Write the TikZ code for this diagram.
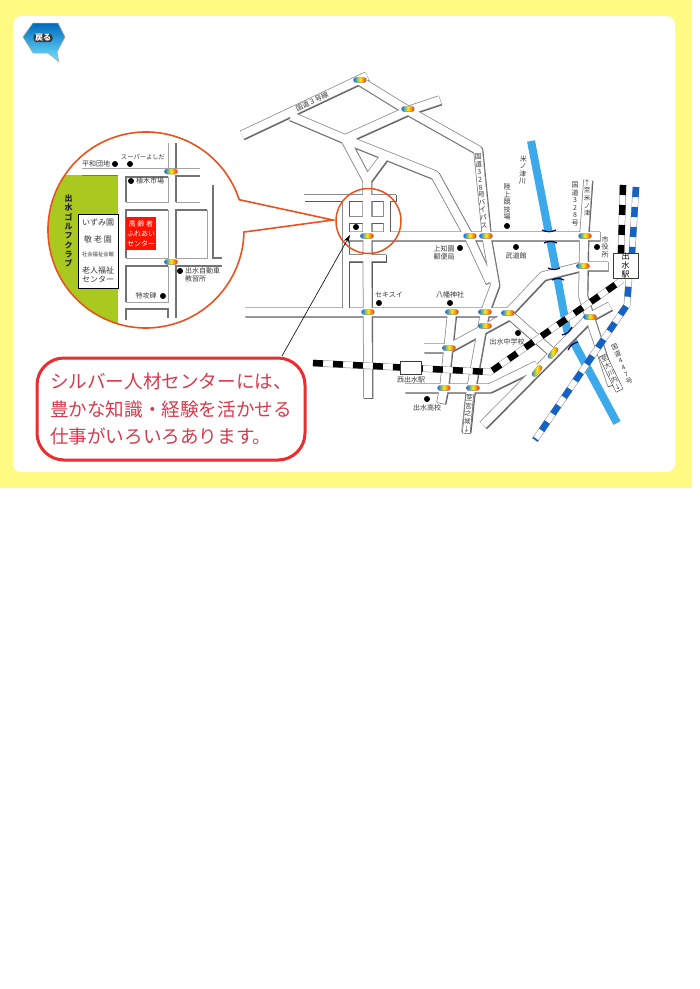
\documentclass[tikz,border=0pt]{standalone}
\usepackage{fontspec}
\setmainfont{Noto Sans CJK JP}
\usetikzlibrary{positioning,arrows.meta}

\definecolor{pagey}{HTML}{FFFA82}
\definecolor{flame}{HTML}{E8521F}
\definecolor{golf}{HTML}{A9C91F}
\definecolor{riverb}{HTML}{3BA9EA}
\definecolor{railb}{HTML}{1462C4}
\definecolor{inkg}{HTML}{3A3A3A}
\definecolor{edgeg}{HTML}{8C8C8C}
\definecolor{shadeg}{HTML}{5A5A5A}
\definecolor{alert}{HTML}{EE2B2E}
\definecolor{alerttext}{HTML}{D83A4C}

\tikzset{
  maplabel/.style={text=inkg,inner sep=0pt,font=\fontsize{7}{8.3}\selectfont,align=center},
  stacklabel/.style={maplabel,font=\fontsize{7}{7.6}\selectfont},
  landmark/.style={circle,fill=black,inner sep=0pt,minimum size=6pt},
  stationbox/.style={draw=inkg,fill=white,inner sep=0pt,line width=.5pt,align=center,text=black},
  roadtag/.style={stacklabel,draw=inkg,fill=white,line width=.4pt,inner xsep=.6pt,inner ysep=1.5pt,font=\fontsize{6.5}{7.6}\selectfont},
  bridge/.style={draw=black!70!blue,line width=1.2pt},
  block/.style={draw=shadeg!85!white,line width=1.3pt},
  lightblock/.style={draw=edgeg!80!white,line width=.8pt},
  signal/.pic={
    \shade[draw=edgeg,line width=.3pt,rounded corners=2.4pt,left color=blue!55!cyan,
      right color=red!75!orange,middle color=yellow!90!orange] (-6.5,-2.6) rectangle (6.5,2.6);
  }
}

\newcommand{\mainroads}{
  (242,135) -- (367,76)
  (360,81) -- (407,110) -- (478,150) -- (487,240) -- (495,285) -- (485,312) -- (470,395) -- (466,432)
  (440,100) -- (407,111) -- (345,139)
  (291,116) -- (345,139) -- (435,175) -- (468,235) -- (490,282)
  (345,139) -- (367,180) -- (368,398)
  (387,153) -- (367,180)
  (345,236) -- (600,236)
  (245,312) -- (513,312)
  (508,313) -- (543,276) -- (583,266) -- (608,266)
  (588,180) -- (584,236) -- (583,296) -- (590,318) -- (612,385)
  (405,388) -- (490,388) -- (537,365)
  (483,425) -- (590,317) -- (610,306)
  (510,315) -- (553,353)
  (424,348) -- (449,348) -- (508,316)
  (452,312) -- (444,388) -- (441,403)
}
\newcommand{\gridroads}{
  (304,197.5) -- (396,197.5)
  (345.5,197.5) -- (345.5,312)
  (386.5,197.5) -- (386.5,236)
  (345.5,219.5) -- (386.5,219.5)
  (345.5,258) -- (386,258)
}
\newcommand{\roadlayer}[2]{
  \draw[#1,line width=#2+8pt,line join=round] \mainroads;
  \draw[#1,line width=#2+6pt,line join=round] \gridroads;
}
\newcommand{\railtrack}[2]{
  \draw[edgeg,line width=6.6pt] #2;
  \draw[white,line width=5.6pt] #2;
  \draw[#1,line width=6.4pt,dash pattern=on 10pt off 10pt] #2;
}

\begin{document}
\begin{tikzpicture}[x=1pt,y=-1pt]
  \useasboundingbox (0,0) rectangle (700,989);

  % backing card
  \fill[white] (0,0) rectangle (700,989);
  \fill[pagey] (0,0) rectangle (692,488);
  \fill[white,rounded corners=8pt] (13,16) rectangle (675,472);

  % back button
  \shade[top color=blue!45!cyan!75!black,bottom color=cyan!50!white!90!blue,draw=gray!70,line width=.5pt]
    (23,37) -- (33,23) -- (58,23) -- (65,37) -- (57,52) -- (59,62) -- (48,53) -- (33,53) -- cycle;
  \node[fill=inkg,text=white,rounded corners=3pt,inner xsep=1.5pt,inner ysep=.5pt,
    font=\fontsize{8}{8.5}\selectfont\bfseries] (backbtn) at (43,38) {戻る};

  % river
  \draw[riverb,line width=8pt] (531,141) -- (555,265) -- (567,330) -- (617,423);

  % roads
  \begin{scope}[xshift=.6pt,yshift=-.8pt]
    \roadlayer{shadeg}{1.6pt}
  \end{scope}
  \roadlayer{edgeg}{1.5pt}
  \roadlayer{white}{0pt}

  % bridges
  \draw[bridge] (542,230) to[bend right=25] (556,230);
  \draw[bridge] (544,243) to[bend left=25] (557,243);
  \draw[bridge] (548,268) to[bend right=25] (560,268);
  \draw[bridge] (552,280) to[bend left=25] (564,280);
  \draw[bridge] (562,335) to[bend right=25] (572,327);
  \draw[bridge] (568,350) to[bend left=25] (578,342);

  % railways
  \railtrack{railb}{(636,187) -- (632,253) -- (629,278) -- (627,305) -- (535,440)}
  \railtrack{black}{(623,185) -- (621,253)}
  \railtrack{black}{(313,363) -- (490,372) -- (493,370) -- (615,285) -- (622,280)}

  \node[stationbox,minimum width=25pt,minimum height=25pt,font=\fontsize{8}{8.6}\selectfont] (izumi) at (625.5,265.5) {出\\水\\駅};
  \node[stationbox,minimum width=21pt,minimum height=13pt] (nishi) at (410.5,367.5) {};
  \node[maplabel] (nishilabel) at (411,380) {西出水駅};

  % signals on the map
  \foreach \sigx/\sigy in {360/80,408/109,367/236,470/236,486/236,585/236,583/266,368/312,452/312,485/312,508/313,485/326,449/348,444/388,473/388,590/317}
    \pic at (\sigx,\sigy) {signal};
  \pic[rotate=50] at (553,353) {signal};
  \pic[rotate=50] at (537,371) {signal};

  % map labels
  \node[maplabel,rotate=25] (route3) at (312,102) {国道３号線};
  \node[stacklabel,rotate=5] (bypass) at (481,191) {国\\道\\3\\2\\8\\号\\バ\\イ\\パ\\ス};
  \node[stacklabel,rotate=-3] (yonotsu) at (523,170) {米\\ノ\\津\\川};
  \node[stacklabel] (rikujo) at (507,202) {陸\\上\\競\\技\\場};
  \node[landmark] (rikujodot) at (507,226) {};
  \node[stacklabel] (route328) at (575,204) {国\\道\\3\\2\\8\\号};
  \node[stacklabel,font=\fontsize{6.5}{7.6}\selectfont] (tokome) at (587,198) {↑\\至\\米\\ノ\\津};
  \node[stacklabel] (shiyaku) at (605,247) {市\\役\\所};
  \node[landmark] (shiyakudot) at (597,247) {};
  \node[maplabel] (yubin) at (444,252.5) {上知園\\郵便局};
  \node[landmark] (yubindot) at (460,248) {};
  \node[maplabel] (budo) at (516,256) {武道館};
  \node[landmark] (budodot) at (516,247) {};
  \node[maplabel] (sekisui) at (389,295) {セキスイ};
  \node[landmark] (sekisuidot) at (379,303) {};
  \node[maplabel] (hachiman) at (450,295) {八幡神社};
  \node[landmark] (hachimandot) at (450,303) {};
  \node[maplabel] (chugaku) at (507,342) {出水中学校};
  \node[landmark] (chugakudot) at (518,333) {};
  \node[maplabel] (koko) at (427,408) {出水高校};
  \node[landmark] (kokodot) at (427,399) {};
  \node[roadtag,rotate=-5] (miyanojo) at (468,414) {至\\宮\\之\\城\\↓};
  \node[roadtag,rotate=26] (okawachi) at (611,373) {至\\大\\川\\内\\↓};
  \node[stacklabel,rotate=23,font=\fontsize{6.5}{7.4}\selectfont] (route447) at (622,364) {国\\道\\4\\4\\7\\号};

  % spot on the map and the call-out inset
  \node[circle,draw=flame,line width=1.5pt,minimum size=65pt,inner sep=0pt] (spot) at (368.5,221) {};
  \node[landmark] (spotdot) at (356,227) {};

  \begin{scope}
    \clip (146,230) circle[radius=98pt];
    \fill[golf] (40,175) rectangle (118,340);
  \end{scope}
  \draw[flame,line width=1.6pt,line join=miter]
    (333,220) -- (239.2,199.7) arc[start angle=18,end angle=358.8,radius=98pt] -- cycle;

  % inset streets
  \draw[block] (126,202) -- (126,177) -- (168,177);
  \draw[lightblock] (168,177) -- (168,202) -- (126,202);
  \draw[block] (126,258) -- (126,210) -- (168,210);
  \draw[lightblock] (168,210) -- (168,258) -- (126,258);
  \draw[block] (126,302) -- (126,266) -- (168,266);
  \draw[lightblock] (168,266) -- (168,302) -- (126,302);
  \draw[block] (126,320) -- (126,309) -- (168,309) -- (168,318);
  \draw[block] (176,202) -- (176,176) -- (200,176);
  \draw[lightblock] (176,202) -- (200,202);
  \draw[block] (176,258) -- (176,210) -- (207,210);
  \draw[lightblock] (207,210) -- (207,258) -- (176,258);
  \draw[block] (213,185) -- (213,258) -- (222,258);
  \draw[block] (222,266) -- (176,266) -- (176,318);
  \draw[block] (176,143) -- (176,168);
  \draw[lightblock] (168,143) -- (168,168);
  \draw[lightblock] (82,168) -- (200,168);
  \draw[block] (82,175.5) -- (118,175.5);

  \pic at (171,171.5) {signal};
  \pic at (171,262) {signal};

  \node[maplabel] (heiwa) at (96,164) {平和団地};
  \node[landmark] (heiwadot) at (115,164) {};
  \node[maplabel,font=\fontsize{6.3}{7}\selectfont] (yoshida) at (143,157) {スーパーよしだ};
  \node[landmark] (yoshidadot) at (130,164) {};
  \node[landmark] (uekidot) at (131,181) {};
  \node[maplabel] (ueki) at (150,181) {植木市場};
  \node[landmark] (jidoshadot) at (180,271) {};
  \node[maplabel,align=left,anchor=north west] (jidosha) at (185,267) {出水自動車\\教習所};
  \node[maplabel] (tokko) at (146,296) {特攻碑};
  \node[landmark] (tokkodot) at (163,296) {};

  \node[draw=black,fill=white,line width=.6pt,minimum width=40pt,minimum height=74pt] (care) at (98,251) {};
  \node[maplabel,font=\fontsize{8}{9}\selectfont] (izumien) at (98,223) {いずみ園};
  \node[maplabel,font=\fontsize{8}{9}\selectfont] (keiroen) at (98,239) {敬 老 園};
  \node[maplabel,font=\fontsize{5.3}{6}\selectfont] (kaikan) at (98,254) {社会福祉会館};
  \node[maplabel,font=\fontsize{8}{9.3}\selectfont] (rojin) at (98,274.5) {老人福祉\\センター};

  \node[fill=red!85!orange,text=white,minimum width=30pt,minimum height=33pt,inner sep=0pt,
    align=center,font=\fontsize{7}{10}\selectfont] (fureai) at (141,233.5) {高 齢 者\\ふれあい\\センター};
  \node[inner sep=0pt,align=center,text=black!85,font=\fontsize{8}{9.3}\selectfont\bfseries] (golflabel) at (68.5,231) {出\\水\\ゴ\\ル\\フ\\ク\\ラ\\ブ};

  % message
  \node[draw=alert,line width=3pt,rounded corners=27pt,fill=white,text=alerttext,minimum width=268pt,
    minimum height=102pt,inner sep=0pt,align=left,font=\fontsize{18.6}{27.5}\selectfont] (message) at (171,409)
    {シルバー人材センターには、\\豊かな知識・経験を活かせる\\仕事がいろいろあります。};

  \coordinate (msgfoot) at (282,356);
  \coordinate (spotgoal) at (350,235);
  \draw[-{Stealth[length=8pt,width=5pt]},line width=.6pt] (msgfoot) -- (spotgoal);
\end{tikzpicture}
\end{document}
